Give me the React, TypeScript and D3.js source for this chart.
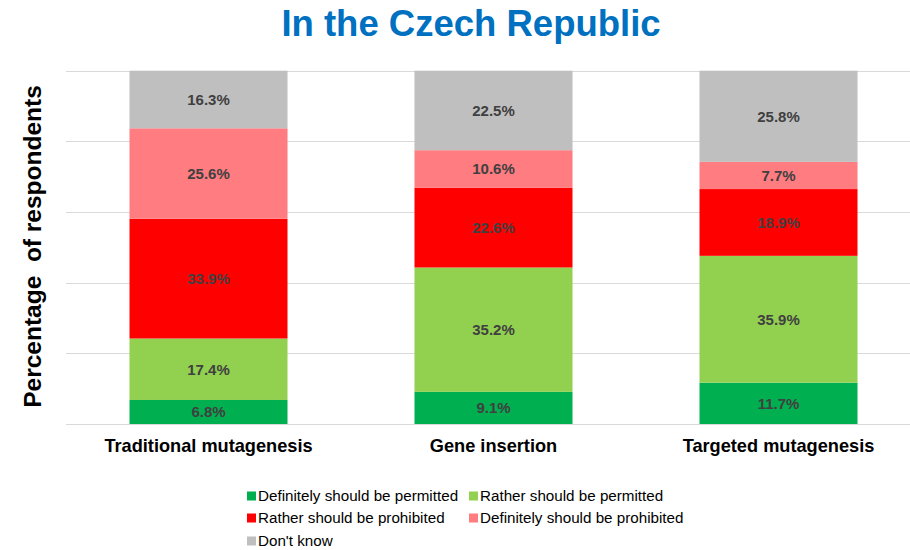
import React from "react";
import * as d3 from "d3";

const categories = ["Traditional mutagenesis", "Gene insertion", "Targeted mutagenesis"];
const seriesNames = [
  "Definitely should be permitted",
  "Rather should be permitted",
  "Rather should be prohibited",
  "Definitely should be prohibited",
  "Don't know",
];
const definitelyPermitted = [6.8, 9.1, 11.7];
const ratherPermitted = [17.4, 35.2, 35.9];
const ratherProhibited = [33.9, 22.6, 18.9];
const definitelyProhibited = [25.6, 10.6, 7.7];
const dontKnow = [16.3, 22.5, 25.8];
const yTicks = [0, 20, 40, 60, 80, 100];

const colors = ["#00B050", "#92D050", "#FF0000", "#FF7C80", "#BFBFBF"];
const seriesValues = [definitelyPermitted, ratherPermitted, ratherProhibited, definitelyProhibited, dontKnow];

const W = 910;
const H = 550;
const font = "Liberation Sans, Arial, sans-serif";

export default function App() {
  const table = categories.map((c, i) => {
    const row: any = { cat: c };
    seriesNames.forEach((s, j) => (row[s] = seriesValues[j][i]));
    return row;
  });
  const stacked = d3.stack<any>().keys(seriesNames)(table);

  const xs = d3.scaleBand().domain(categories).range([66, 921]).paddingInner(0.4456).paddingOuter(0.2228);
  const y = d3.scaleLinear().domain([0, 100]).range([424, 70.7]);

  const legendItems = [
    { i: 0, x: 247, y: 496 },
    { i: 1, x: 469, y: 496 },
    { i: 2, x: 247, y: 518 },
    { i: 3, x: 469, y: 518 },
    { i: 4, x: 247, y: 541 },
  ];

  return (
    <svg width={W} height={H} style={{ position: "absolute", left: 0, top: 0, background: "#fff" }} fontFamily={font}>
      <rect width={W} height={H} fill="#fff" />
      <text x={471} y={36} textAnchor="middle" fontSize={36.5} fontWeight="bold" fill="#0070C0">
        In the Czech Republic
      </text>
      {yTicks.map((t) => (
        <line key={t} x1={66} x2={W} y1={Math.round(y(t)) + 0.5} y2={Math.round(y(t)) + 0.5} stroke="#D9D9D9" strokeWidth={1.2} />
      ))}
      <text
        transform={`translate(41,246.5) rotate(-90)`}
        textAnchor="middle"
        fontSize={24.5}
        fontWeight="bold"
        fill="#000"
        style={{ whiteSpace: "pre" }}
      >
        {"Percentage  of respondents"}
      </text>
      {stacked.map((layer, j) => (
        <g key={layer.key}>
          {layer.map((d, i) => {
            const x0 = xs(categories[i])!;
            const y0 = y(d[1]);
            const y1 = y(d[0]);
            return (
              <g key={i}>
                <rect x={x0} y={y0} width={xs.bandwidth()} height={y1 - y0} fill={colors[j]} />
                <text
                  x={x0 + xs.bandwidth() / 2}
                  y={(y0 + y1) / 2}
                  dy="0.36em"
                  textAnchor="middle"
                  fontSize={15}
                  fontWeight="bold"
                  fill="#404040"
                >
                  {seriesValues[j][i].toFixed(1)}%
                </text>
              </g>
            );
          })}
        </g>
      ))}
      {categories.map((c) => (
        <text key={c} x={xs(c)! + xs.bandwidth() / 2} y={452} textAnchor="middle" fontSize={18.2} fontWeight="bold" fill="#000">
          {c}
        </text>
      ))}
      {legendItems.map((l) => (
        <g key={l.i}>
          <rect x={l.x} y={l.y - 4.5} width={9} height={9} fill={colors[l.i]} />
          <text x={l.x + 11} y={l.y} dy="0.36em" fontSize={15.2} fill="#000">
            {seriesNames[l.i]}
          </text>
        </g>
      ))}
    </svg>
  );
}
